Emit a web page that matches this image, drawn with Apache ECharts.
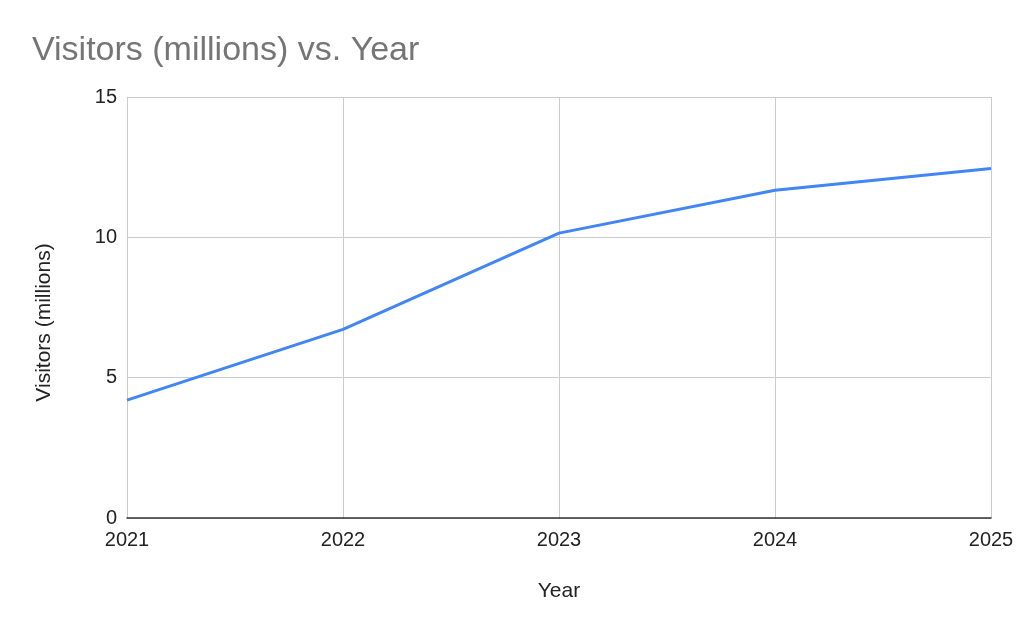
<!DOCTYPE html>
<html><head><meta charset="utf-8">
<script src="https://cdn.jsdelivr.net/npm/echarts@6/dist/echarts.min.js"></script>
<style>html,body{margin:0;padding:0;background:#fff}#c{width:1024px;height:633px}</style>
</head><body><div id="c"></div>
<script>
const years = ['2021','2022','2023','2024','2025'];
const visitors = [4.2, 6.72, 10.15, 11.68, 12.45];
const yTicks = [0, 5, 10, 15];

const FONT = '"Liberation Sans", Arial, sans-serif';
const chart = echarts.init(document.getElementById('c'));
chart.setOption({
  animation: false,
  backgroundColor: '#ffffff',
  title: {
    text: 'Visitors (millions) vs. Year',
    left: 32, top: 34, padding: 0,
    textStyle: { fontFamily: FONT, fontSize: 34, fontWeight: 'normal', color: '#757575' }
  },
  grid: { left: 127, right: 33, top: 97, bottom: 115, containLabel: false },
  xAxis: {
    type: 'category',
    data: years,
    boundaryGap: false,
    name: 'Year',
    nameLocation: 'middle',
    nameGap: 63,
    nameTextStyle: { fontFamily: FONT, fontSize: 21, color: '#222' },
    axisLine: { show: true, lineStyle: { color: '#333', width: 1.5 } },
    axisTick: { show: false },
    axisLabel: { fontFamily: FONT, fontSize: 20, color: '#222', margin: 12 },
    splitLine: { show: true, lineStyle: { color: '#cccccc', width: 1 } }
  },
  yAxis: {
    type: 'value',
    min: yTicks[0], max: yTicks[yTicks.length - 1], interval: 5,
    name: 'Visitors (millions)',
    nameLocation: 'middle',
    nameGap: 72,
    nameTextStyle: { fontFamily: FONT, fontSize: 21, color: '#222', padding: [0, 30, 0, 0] },
    axisLine: { show: false },
    axisTick: { show: false },
    axisLabel: { fontFamily: FONT, fontSize: 20, color: '#222', margin: 10 },
    splitLine: { show: true, lineStyle: { color: '#cccccc', width: 1 } }
  },
  series: [{
    type: 'line',
    data: visitors,
    symbol: 'none',
    lineStyle: { color: '#4285f4', width: 3 },
    itemStyle: { color: '#4285f4' }
  }]
});
</script></body></html>
